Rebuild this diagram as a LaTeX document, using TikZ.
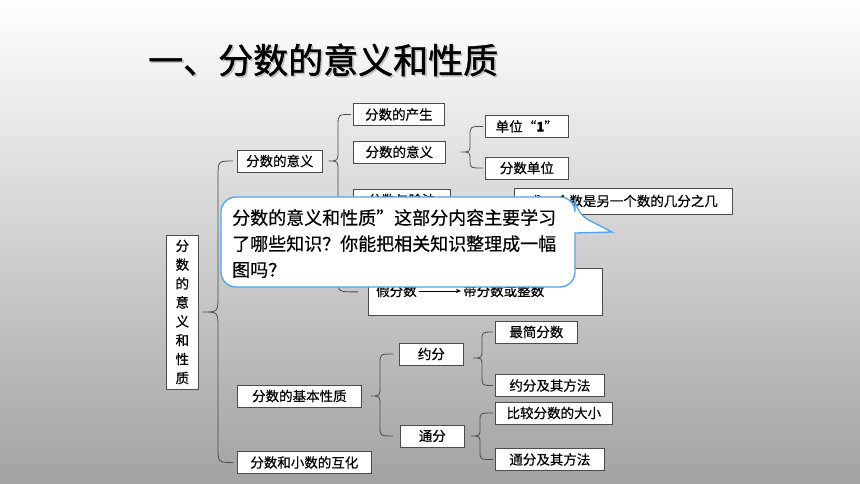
\documentclass[tikz,border=0pt]{standalone}
\usepackage{fontspec}
\setmainfont{Noto Sans CJK SC}
\newfontfamily\boxfont{Noto Sans CJK SC}[FakeBold=0.5]
\newfontfamily\titlefont{Noto Sans CJK SC}[FakeBold=1.2]
\usetikzlibrary{arrows.meta}
\definecolor{bgmid}{HTML}{EBEBEB}
\definecolor{bgbot}{HTML}{A2A2A2}
\definecolor{bubbleblue}{HTML}{4FA3F0}
\tikzset{
  box/.style={draw=black!70, fill=white, line width=0.7pt, inner sep=0pt,
    minimum height=22pt, font=\boxfont\fontsize{13.5}{16}\selectfont, anchor=west},
  brace/.style={draw=black!70, line width=0.8pt},
  bubble/.style={draw=bubbleblue, fill=white, line width=1.3pt},
}
\begin{document}
\begin{tikzpicture}[x=1pt,y=-1pt]
\useasboundingbox (0,0) rectangle (860,484);
\shade[top color=white, middle color=bgmid, bottom color=bgbot] (0,0) rectangle (860,484);
% title with shadow
\node[font=\titlefont\fontsize{35}{40}\selectfont, text=black!25, anchor=west, inner sep=0pt] at (149.5,61.5) {一、分数的意义和性质};
\node[font=\titlefont\fontsize{35}{40}\selectfont, anchor=west, inner sep=0pt] (title) at (148,60) {一、分数的意义和性质};
% boxes
\node[box, minimum width=32pt, minimum height=154pt, align=center,
  font=\boxfont\fontsize{13.5}{18.9}\selectfont] (root) at (166,312) {分\\数\\的\\意\\义\\和\\性\\质};
\node[box, minimum width=85pt] (yiyi) at (237,161) {分数的意义};
\node[box, minimum width=91pt] (chansheng) at (353,114.5) {分数的产生};
\node[box, minimum width=92pt] (yiyi2) at (353,152) {分数的意义};
\node[box, minimum width=97pt] (chufa) at (353,200) {分数与除法};
\node[box, minimum width=83pt] (danwei1) at (485,126.5) {单位“\textbf{1}”};
\node[box, minimum width=83pt] (danwei) at (485,168) {分数单位};
\node[box, minimum width=218pt, minimum height=26pt] (jifen) at (514,201) {求一个数是另一个数的几分之几};
\node[box, minimum width=234pt, minimum height=47pt, anchor=north west] (fenlei) at (368,268) {};
\node[font=\boxfont\fontsize{13.5}{16}\selectfont, anchor=west, inner sep=2pt] (jia) at (374,291) {假分数};
\node[font=\boxfont\fontsize{13.5}{16}\selectfont, anchor=west, inner sep=2pt] (dai) at (461,291) {带分数或整数};
\draw[-{Stealth[length=5pt,width=4pt]}, line width=0.6pt] (jia) -- (dai);
\node[box, minimum width=124pt] (xingzhi) at (237,396) {分数的基本性质};
\node[box, minimum width=64pt] (yuefen) at (399,354) {约分};
\node[box, minimum width=64pt] (tongfen) at (400,436) {通分};
\node[box, minimum width=82pt] (zuijian) at (495,332) {最简分数};
\node[box, minimum width=109pt] (yuefa) at (495,385.5) {约分及其方法};
\node[box, minimum width=117pt] (bijiao) at (495,413) {比较分数的大小};
\node[box, minimum width=109pt] (tongfa) at (495,459.5) {通分及其方法};
\node[box, minimum width=134pt] (huhua) at (237,462.5) {分数和小数的互化};
% braces
\draw[brace] ([xshift=-4pt]yiyi.west) .. controls (218,161) .. (218,177) -- (218,296)
  .. controls (218,312) .. ([xshift=4pt]root.east) .. controls (218,312) .. (218,328)
  -- (218,447) .. controls (218,462.5) .. ([xshift=-4pt]huhua.west);
\draw[brace] ([xshift=-2pt]chansheng.west) .. controls (338,114.5) .. (338,126) -- (338,150)
  .. controls (338,161) .. ([xshift=6pt]yiyi.east) .. controls (338,161) .. (338,172)
  -- (338,280) .. controls (338,292) .. ([xshift=-10pt]fenlei.west);
\draw[brace] ([xshift=-2pt]danwei1.west) .. controls (470,126.5) .. (470,136) -- (470,144)
  .. controls (470,152) .. ([xshift=15pt]yiyi2.east) .. controls (470,152) .. (470,160)
  .. controls (470,168) .. ([xshift=-2pt]danwei.west);
\draw[brace] ([xshift=-6pt]yuefen.west) .. controls (380,354) .. (380,364) -- (380,386)
  .. controls (380,396) .. ([xshift=9pt]xingzhi.east) .. controls (380,396) .. (380,406)
  -- (380,426) .. controls (380,436) .. ([xshift=-7pt]tongfen.west);
\draw[brace] ([xshift=-2pt]zuijian.west) .. controls (482,332) .. (482,341) -- (482,349)
  .. controls (482,358) .. (473,358) .. controls (482,358) .. (482,367)
  -- (482,376) .. controls (482,385.5) .. ([xshift=-2pt]yuefa.west);
\draw[brace] ([xshift=-2pt]bijiao.west) .. controls (480,413) .. (480,421) -- (480,428)
  .. controls (480,436) .. ([xshift=6pt]tongfen.east) .. controls (480,436) .. (480,444)
  -- (480,451) .. controls (480,459.5) .. ([xshift=-2pt]tongfa.west);
% speech bubble
\draw[bubble, rounded corners=15pt] (221,240) -- (221,197) -- (575,197) -- (575,213)
  [sharp corners] -- (612,232) -- (575,233) [rounded corners=15pt] -- (575,287) -- (221,287) -- cycle;
\node[font=\boxfont\fontsize{18}{26}\selectfont, align=left, anchor=north west, inner sep=0pt] (ask)
  at (232,209) {分数的意义和性质”这部分内容主要学习\\了哪些知识？你能把相关知识整理成一幅\\图吗？};
\end{tikzpicture}
\end{document}
